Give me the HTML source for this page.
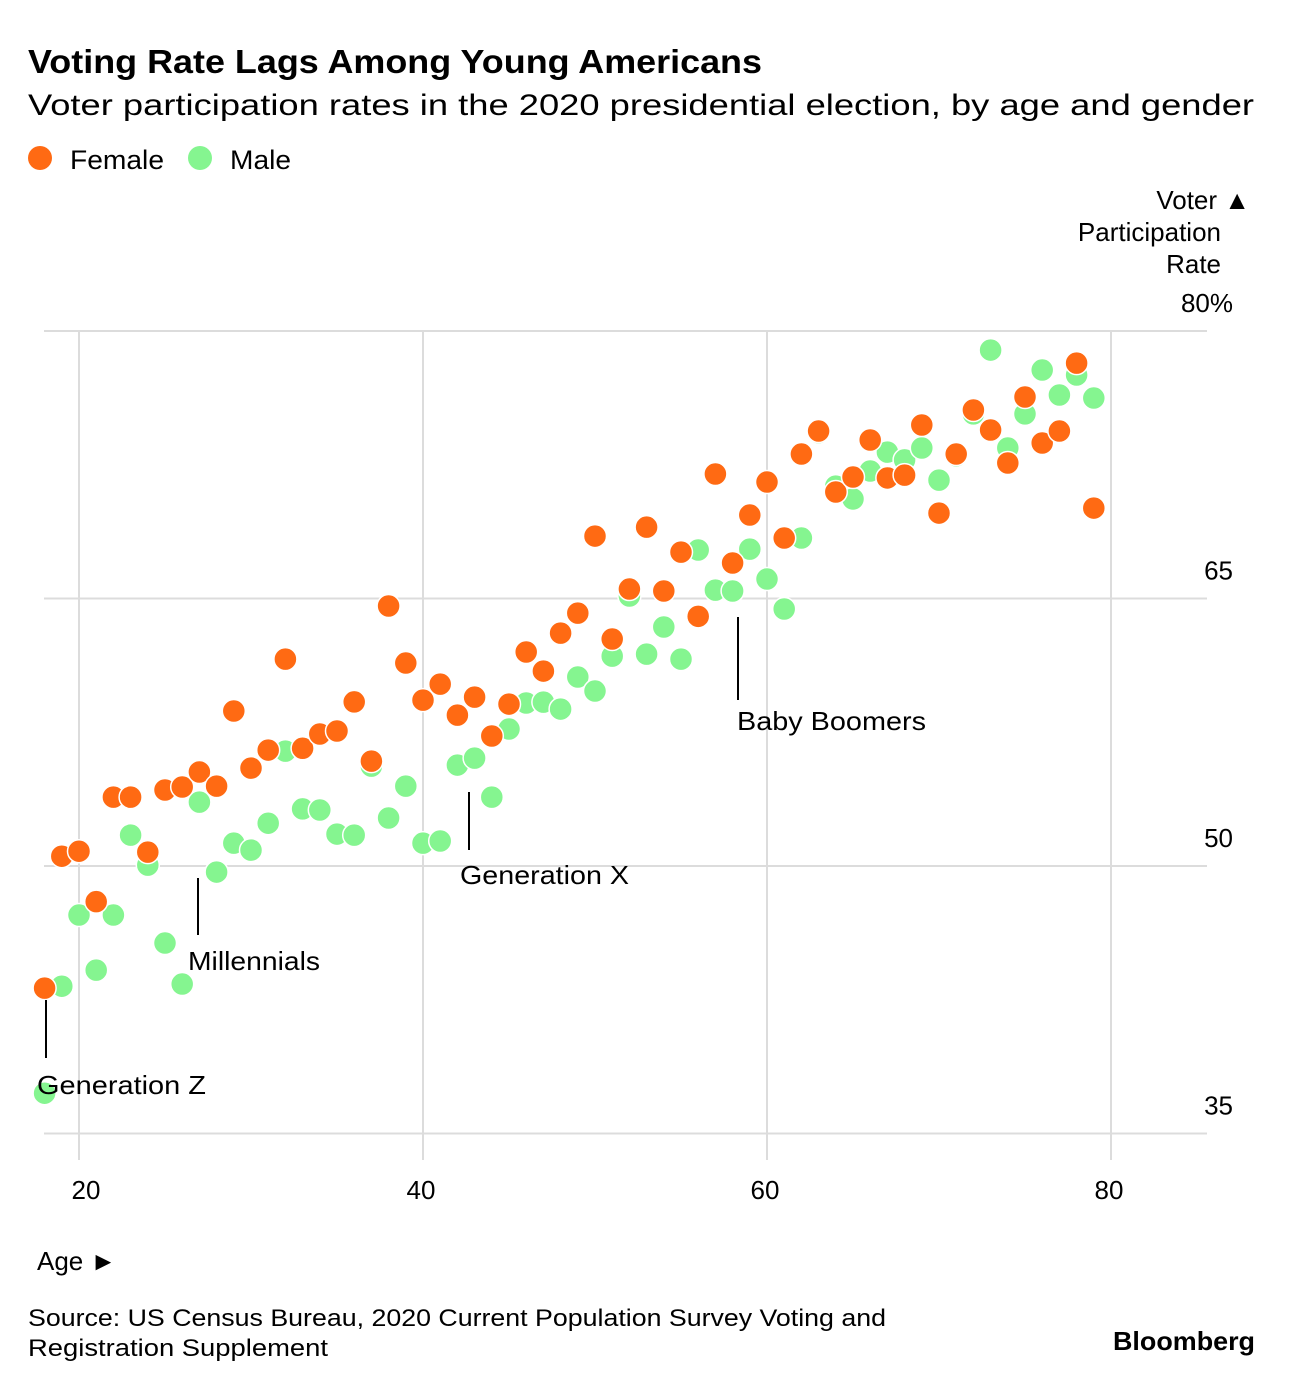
<!DOCTYPE html>
<html><head><meta charset="utf-8">
<style>
body{margin:0;background:#fff;font-family:"Liberation Sans",Arial,sans-serif;}
svg{display:block}
</style></head>
<body>
<svg id="chart" width="1294" height="1386" viewBox="0 0 1294 1386" xmlns="http://www.w3.org/2000/svg" font-family="Liberation Sans, Arial, sans-serif">
<text x="28" y="73" font-size="33" font-weight="bold" fill="#000" textLength="734" lengthAdjust="spacingAndGlyphs">Voting Rate Lags Among Young Americans</text>
<text x="28" y="115" font-size="30" fill="#000" textLength="1226" lengthAdjust="spacingAndGlyphs">Voter participation rates in the 2020 presidential election, by age and gender</text>
<g>
<circle cx="40" cy="158" r="12" fill="#ff6a13"/>
<text x="70" y="169" font-size="27" textLength="94" lengthAdjust="spacingAndGlyphs">Female</text>
<circle cx="200" cy="158" r="12" fill="#85f590"/>
<text x="230" y="169" font-size="27" textLength="61" lengthAdjust="spacingAndGlyphs">Male</text>
</g>
<g font-size="26" text-anchor="end">
<text x="1250" y="209">Voter ▲</text>
<text x="1221" y="241">Participation</text>
<text x="1221" y="273">Rate</text>
</g>
<g id="grid"></g>
<g id="annotations" font-size="26" fill="#000"></g>
<g id="points"></g>
<text x="37" y="1270" font-size="26">Age ►</text>
<text x="28" y="1326" font-size="24" textLength="858" lengthAdjust="spacingAndGlyphs">Source: US Census Bureau, 2020 Current Population Survey Voting and</text>
<text x="28" y="1356" font-size="24" textLength="300" lengthAdjust="spacingAndGlyphs">Registration Supplement</text>
<text x="1255" y="1350" font-size="26" font-weight="bold" text-anchor="end" textLength="142" lengthAdjust="spacingAndGlyphs">Bloomberg</text>
</svg>
<script>
const ages = [18,19,20,21,22,23,24,25,26,27,28,29,30,31,32,33,34,35,36,37,38,39,40,41,42,43,44,45,46,47,48,49,50,51,52,53,54,55,56,57,58,59,60,61,62,63,64,65,66,67,68,69,70,71,72,73,74,75,76,77,78,79];
const femaleRates = [43.15,50.55,50.83,48.0,53.86,53.86,50.78,54.26,54.43,55.27,54.48,58.69,55.49,56.5,61.6,56.6,57.4,57.57,59.2,55.88,64.58,61.38,59.3,60.2,58.46,59.47,57.29,59.08,62.0,60.93,63.06,64.18,68.5,62.73,65.53,69.0,65.42,67.6,64.0,71.98,66.99,69.68,71.53,68.39,73.1,74.39,70.97,71.81,73.89,71.76,71.92,74.73,69.79,73.1,75.57,74.45,72.6,76.3,73.72,74.39,78.2,70.07];
const maleRates = [37.26,43.26,47.25,44.16,47.25,51.73,50.05,45.68,43.38,53.58,49.66,51.28,50.89,52.4,56.44,53.2,53.14,51.79,51.73,55.6,52.69,54.48,51.28,51.4,55.66,56.05,53.86,57.68,59.14,59.19,58.8,60.6,59.81,61.77,65.14,61.88,63.4,61.6,67.72,65.47,65.42,67.77,66.09,64.41,68.39,74.3,71.3,70.58,72.15,73.21,72.77,73.44,71.64,73.0,75.35,78.93,73.44,75.35,77.81,76.41,77.53,76.24];
const xTicks = [20,40,60,80];
const yTicks = [35,50,65,80];
const yTickLabels = ["35","50","65","80%"];

const NS="http://www.w3.org/2000/svg";
const xS = a => 79 + (a-20)*17.2;
const yS = v => 866 - (v-50)*(267.5/15);
function mk(tag, attrs, parent){const e=document.createElementNS(NS,tag);for(const k in attrs)e.setAttribute(k,attrs[k]);parent.appendChild(e);return e;}
const grid=document.getElementById('grid');
yTicks.forEach((t,i)=>{
  const l=mk('line',{x1:44,x2:1207,y1:yS(t),y2:yS(t),stroke:'#dcdcdc','stroke-width':2},grid);
  
  
  const tx=mk('text',{x:1233,y:yS(t)-19,'font-size':26,'text-anchor':'end'},grid);
  tx.textContent=yTickLabels[i];
  
  
});
xTicks.forEach(t=>{
  const l=mk('line',{x1:xS(t),x2:xS(t),y1:331,y2:1160,stroke:'#dcdcdc','stroke-width':2},grid);
  
  
  const tx=mk('text',{x:xS(t)+(t===20?7:-2),y:1199,'font-size':26,'text-anchor':'middle'},grid);
  tx.textContent=String(t);
  
  
});
const pts=document.getElementById('points');
ages.forEach((a,i)=>{
  const c=mk('circle',{cx:xS(a),cy:yS(maleRates[i]),r:11.5,fill:'#85f590',stroke:'#fff','stroke-width':1.5},pts);
  
  
});
ages.forEach((a,i)=>{
  const c=mk('circle',{cx:xS(a),cy:yS(femaleRates[i]),r:11.5,fill:'#ff6a13',stroke:'#fff','stroke-width':1.5},pts);
  
  
});
const ann=document.getElementById('annotations');
[["Generation Z",46,1000,1058,37,1094,169],["Millennials",198,878,935,188,970,132],["Generation X",469,792,850,460,884,169],["Baby Boomers",738,617,700,737,730,189]].forEach(d=>{
  const l=mk('line',{x1:d[1],x2:d[1],y1:d[2],y2:d[3],stroke:'#000','stroke-width':2},ann);
  
  
  const t=mk('text',{x:d[4],y:d[5],textLength:d[6],lengthAdjust:'spacingAndGlyphs'},ann);
  t.textContent=d[0];
  
  
});
document.getElementById('chart').appendChild(ann);
</script>
</body></html>
